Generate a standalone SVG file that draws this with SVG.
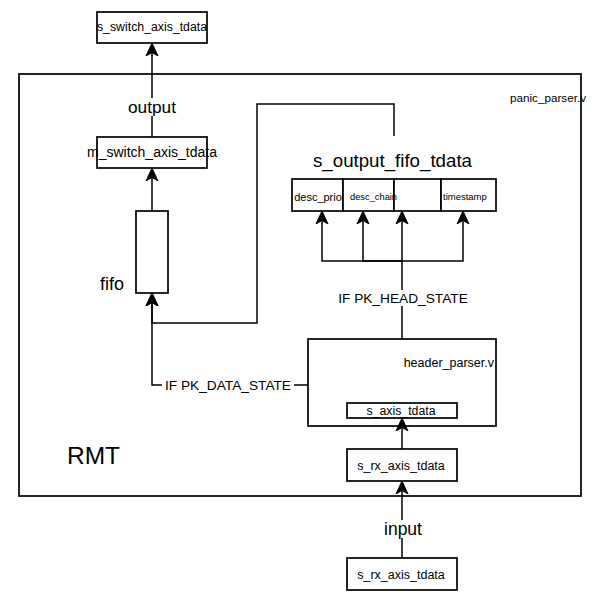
<svg xmlns="http://www.w3.org/2000/svg" width="603" height="600" viewBox="0 0 603 600">
<defs>
<style>
.box{fill:#fff;stroke:#000;stroke-width:1.7}
.ln{fill:none;stroke:#000;stroke-width:1.5}
.arr{marker-end:url(#ah)}
text{font-family:"Liberation Sans",Arial,Helvetica,sans-serif;fill:#000}
.c{text-anchor:middle}
.bg{fill:#fff}
</style>
<marker id="ah" markerUnits="userSpaceOnUse" markerWidth="16" markerHeight="16" viewBox="0 -8 16 16" refX="13" refY="0" orient="auto">
<path d="M13,0 L0,-6 L3.5,0 L0,6 Z" fill="#000" stroke="#000" stroke-width="1"/>
</marker>
</defs>
<rect width="603" height="600" fill="#fff"/>

<g id="rmt">
<rect class="box" x="19" y="74" width="562" height="422"/>
<text x="93.5" y="464" class="c" font-size="24.5">RMT</text>
<text x="510" y="102" font-size="11.7">panic_parser.v</text>
</g>

<g id="s_switch_axis_tdata">
<rect class="box" x="97" y="12" width="110" height="31"/>
<text x="152" y="31.3" class="c" font-size="12.3">s_switch_axis_tdata</text>
</g>

<g id="m_switch_axis_tdata">
<rect class="box" x="97" y="137" width="110" height="31"/>
<text x="152" y="157" class="c" font-size="14">m_switch_axis_tdata</text>
</g>

<g id="fifo">
<rect class="box" x="136" y="211" width="32" height="82"/>
<text x="124" y="290" text-anchor="end" font-size="18">fifo</text>
</g>

<g id="s_output_fifo_tdata">
<text x="392.5" y="166.5" class="c" font-size="18.7">s_output_fifo_tdata</text>
<rect class="box" x="292" y="179" width="51" height="32"/>
<rect class="box" x="343" y="179" width="51" height="32"/>
<rect class="box" x="394" y="179" width="47" height="32"/>
<rect class="box" x="441" y="179" width="55" height="32"/>
<text x="318" y="201" class="c" font-size="11">desc_prio</text>
<text x="350" y="200" font-size="9.3">desc_chain</text>
<text x="443" y="200" font-size="9.5">timestamp</text>
</g>

<g id="header_parser">
<rect class="box" x="308" y="339" width="188" height="87"/>
<text x="494" y="367" text-anchor="end" font-size="12.5">header_parser.v</text>
</g>

<g id="s_axis_tdata">
<rect class="box" x="347" y="403" width="110" height="15"/>
<text x="401" y="415" class="c" font-size="12.3">s_axis_tdata</text>
</g>

<g id="s_rx_axis_tdata_inner">
<rect class="box" x="347" y="449" width="110" height="32"/>
<text x="401" y="469.5" class="c" font-size="12.5">s_rx_axis_tdata</text>
</g>

<g id="s_rx_axis_tdata_input">
<rect class="box" x="347" y="558" width="110" height="32"/>
<text x="401" y="578.5" class="c" font-size="12.5">s_rx_axis_tdata</text>
</g>

<g id="connectors">
<path class="ln arr" d="M152,137 L152,43"/>
<path class="ln arr" d="M152,211 L152,168"/>
<path class="ln arr" d="M394,136 L394,104 L257,104 L257,323 L152,323 L152,293"/>
<path class="ln arr" d="M308,385 L152,385 L152,293"/>
<path class="ln arr" d="M402,339 L402,211"/>
<path class="ln arr" d="M402,261 L322,261 L322,211"/>
<path class="ln arr" d="M402,261 L363,261 L363,211"/>
<path class="ln arr" d="M402,261 L463,261 L463,211"/>
<path class="ln arr" d="M402,449 L402,418"/>
<path class="ln arr" d="M402,558 L402,481"/>

<rect class="bg" x="127" y="98" width="50" height="18"/>
<text x="152" y="113" class="c" font-size="17.3">output</text>

<rect class="bg" x="336" y="290" width="134" height="16"/>
<text x="403" y="303" class="c" font-size="13.7">IF PK_HEAD_STATE</text>

<rect class="bg" x="162" y="377" width="132" height="16"/>
<text x="228" y="390" class="c" font-size="13.7">IF PK_DATA_STATE</text>

<rect class="bg" x="382" y="520" width="42" height="18"/>
<text x="403" y="535" class="c" font-size="17.5">input</text>
</g>
</svg>
